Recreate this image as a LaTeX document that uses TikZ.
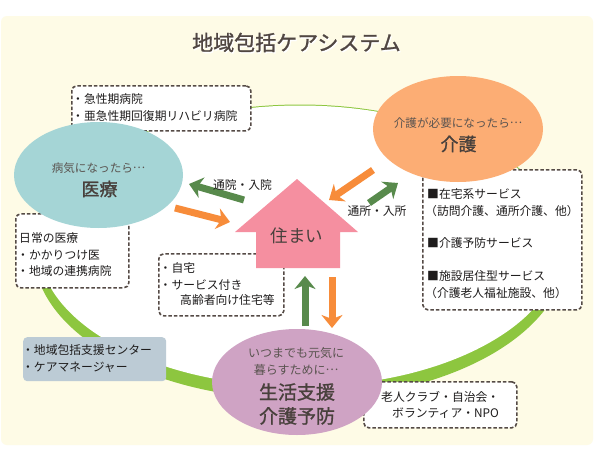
\documentclass[tikz,border=0pt]{standalone}
\usepackage{fontspec}
\setmainfont{Noto Sans CJK JP}
\newfontfamily\jpbold{Noto Sans CJK JP}[FakeBold=1.2]
\usetikzlibrary{arrows.meta,shapes.geometric}
\newcommand{\midell}{\raisebox{0.32em}{…}}
\definecolor{bgyellow}{RGB}{254,251,230}
\definecolor{ringgreen}{RGB}{141,198,63}
\definecolor{tealell}{RGB}{165,213,214}
\definecolor{orangeell}{RGB}{252,173,116}
\definecolor{purpleell}{RGB}{207,163,196}
\definecolor{housepink}{RGB}{245,143,160}
\definecolor{arrgreen}{RGB}{88,138,76}
\definecolor{arrorange}{RGB}{247,140,58}
\definecolor{dashcol}{RGB}{85,75,70}
\definecolor{titlecol}{RGB}{80,70,66}
\definecolor{ellsmall}{RGB}{90,84,80}
\definecolor{ellbig}{RGB}{72,64,60}
\definecolor{boxtext}{RGB}{30,28,28}
\definecolor{bluegray}{RGB}{188,203,213}
\tikzset{
  dbox/.style={draw=dashcol, line width=1.6pt, dash pattern=on 3.5pt off 2pt, rounded corners=5pt, fill=white, inner sep=0pt, anchor=north west},
  btxt/.style={font=\fontsize{11.8}{14}\selectfont, text=boxtext, inner sep=0pt, anchor=base west},
  esmall/.style={font=\fontsize{11.6}{14}\selectfont, text=ellsmall, inner sep=0pt, anchor=base},
  ebig/.style={font=\jpbold\fontsize{18}{20}\selectfont, text=ellbig, inner sep=0pt, anchor=base},
  ellnode/.style={ellipse, inner sep=0pt},
  garrow/.style={draw=arrgreen, line width=7pt, -{Stealth[length=13pt,width=21pt,inset=4pt]}},
  oarrow/.style={draw=arrorange, line width=7pt, -{Stealth[length=13pt,width=21pt,inset=4pt]}},
  lbl/.style={font=\fontsize{11.8}{14}\selectfont, text=boxtext, inner sep=0pt, anchor=base}
}
\begin{document}
\begin{tikzpicture}[x=1pt,y=-1pt]
\useasboundingbox (0,0) rectangle (595,450);
\fill[white] (0,0) rectangle (595,450);
% background
\fill[bgyellow, rounded corners=6pt] (1,16) rectangle (593,445);
% ring
\fill[ringgreen] (300,252) ellipse [x radius=266, y radius=147.5];
\fill[white] (300,246) ellipse [x radius=261, y radius=140.5];
% dashed boxes
\node[dbox, minimum width=179pt, minimum height=45pt] (box1) at (71,85) {};
\node[dbox, minimum width=113pt, minimum height=74pt] (box3) at (15,213) {};
\node[dbox, minimum width=159pt, minimum height=140pt] (boxr) at (422,169) {};
\node[dbox, minimum width=125pt, minimum height=62pt] (boxh) at (158,253) {};
\node[dbox, minimum width=153pt, minimum height=46pt] (boxn) at (363,381) {};
\node[fill=bluegray, rounded corners=4pt, inner sep=0pt, anchor=north west, minimum width=143pt, minimum height=44pt] (boxb) at (23,337) {};
% ellipses
\node[ellnode, fill=tealell, minimum width=169pt, minimum height=106pt] (iryo) at (98.5,175) {};
\node[ellnode, fill=orangeell, minimum width=170pt, minimum height=106pt] (kaigo) at (458,129) {};
\node[ellnode, fill=purpleell, minimum width=170pt, minimum height=106pt] (seikatsu) at (297,382) {};
% house
\fill[housepink] (297,179) -- (358,232) -- (340,232) -- (340,268) -- (256,268) -- (256,232) -- (235,232) -- cycle;
\coordinate (house) at (297,235);
% arrows
\coordinate (g1s) at (244,200); \coordinate (g1e) at (189,184);
\coordinate (o1s) at (175,208); \coordinate (o1e) at (230,222);
\coordinate (o2s) at (373,170); \coordinate (o2e) at (329,200);
\coordinate (g2s) at (369,203); \coordinate (g2e) at (398,183);
\coordinate (g3s) at (305,326); \coordinate (g3e) at (305,276);
\coordinate (o3s) at (332,277); \coordinate (o3e) at (332,328);
\draw[garrow] (g1s) -- (g1e);
\draw[oarrow] (o1s) -- (o1e);
\draw[oarrow] (o2s) -- (o2e);
\draw[garrow] (g2s) -- (g2e);
\draw[garrow] (g3s) -- (g3e);
\draw[oarrow] (o3s) -- (o3e);
% title with white shadow
\node[font=\jpbold\fontsize{21}{24}\selectfont, text=white, inner sep=0pt, anchor=base] (titleshadow) at (297.6,52) {地域包括ケアシステム};
\node[font=\jpbold\fontsize{21}{24}\selectfont, text=titlecol, inner sep=0pt, anchor=base] (title) at (296.5,50.5) {地域包括ケアシステム};
% box texts
\node[btxt] (b1a) at (72,103.5) {・急性期病院};
\node[btxt] (b1b) at (72,120.5) {・亜急性期回復期リハビリ病院};
\node[btxt] (b3a) at (19,242.5) {日常の医療};
\node[btxt] (b3b) at (17,259.5) {・かかりつけ医};
\node[btxt] (b3c) at (17,275.5) {・地域の連携病院};
\node[btxt] (bha) at (159.5,272.5) {・自宅};
\node[btxt] (bhb) at (159.5,289.5) {・サービス付き};
\node[btxt] (bhc) at (180,304.5) {高齢者向け住宅等};
\node[btxt] (bra) at (427,198.5) {■在宅系サービス};
\node[btxt] (brb) at (425,215.5) {（訪問介護、通所介護、他）};
\node[btxt] (brc) at (427,247.5) {■介護予防サービス};
\node[btxt] (brd) at (427,280.5) {■施設居住型サービス};
\node[btxt] (bre) at (425,297.5) {（介護老人福祉施設、他）};
\node[btxt] (bba) at (22,354.5) {・地域包括支援センター};
\node[btxt] (bbb) at (22,371.5) {・ケアマネージャー};
\node[btxt] (bna) at (381,401.5) {老人クラブ・自治会・};
\node[btxt] (bnb) at (392,417.5) {ボランティア・NPO};
% ellipse texts
\node[esmall] (iryoa) at (98.5,172.4) {病気になったら\midell};
\node[ebig] (iryob) at (99.5,195.8) {医療};
\node[esmall] (kaigoa) at (458,127.4) {介護が必要になったら\midell};
\node[ebig] (kaigob) at (458.5,150.8) {介護};
\node[esmall, font=\fontsize{12}{14}\selectfont] (seia) at (296,357.5) {いつまでも元気に};
\node[esmall, font=\fontsize{12}{14}\selectfont] (seib) at (296,374.5) {暮らすために\midell};
\node[ebig, font=\jpbold\fontsize{19}{21}\selectfont] (seic) at (297,399.2) {生活支援};
\node[ebig, font=\jpbold\fontsize{19}{21}\selectfont] (seid) at (297,423.2) {介護予防};
\node[font=\fontsize{17.5}{20}\selectfont, text=ellbig, inner sep=0pt, anchor=base] (sumai) at (297,242.8) {住まい};
% arrow labels
\node[lbl] (lbl1) at (242.5,189.5) {通院・入院};
\node[lbl] (lbl2) at (377,215.5) {通所・入所};
\end{tikzpicture}
\end{document}
